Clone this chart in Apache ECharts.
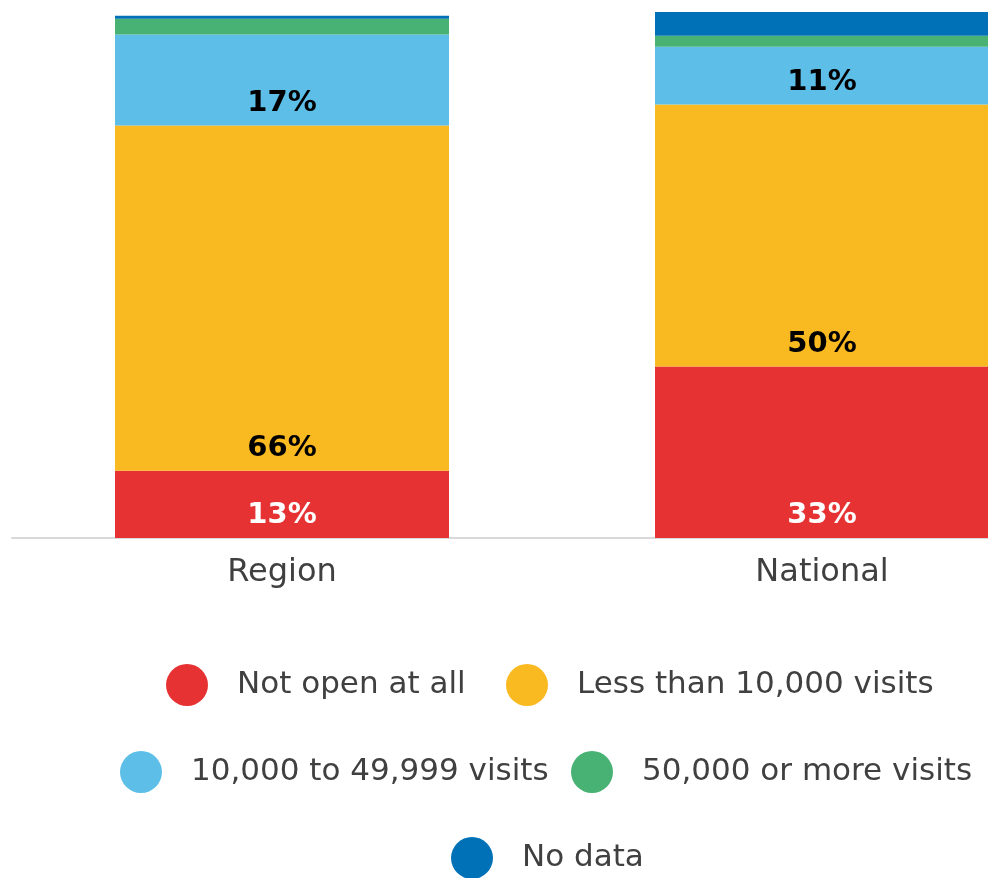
<!DOCTYPE html>
<html>
<head>
<meta charset="utf-8">
<script src="https://cdn.jsdelivr.net/npm/echarts@6/dist/echarts.min.js"></script>
<style>
  html,body{margin:0;padding:0;background:#fff;}
  #b{width:988px;height:878px;}
</style>
</head>
<body>
<div id="b"></div>
<script>
var cats = ['Region', 'National'];
var names = ['Not open at all', 'Less than 10,000 visits', '10,000 to 49,999 visits', '50,000 or more visits', 'No data'];
var notOpen = [12.8, 32.6];
var under10k = [65.6, 49.8];
var from10k = [17.3, 11.0];
var over50k = [3.0, 2.1];
var noData = [0.6, 4.6];
var colors = ['#e63232', '#f9b920', '#5dbee8', '#48b274', '#0071b6'];

var allData = [notOpen, under10k, from10k, over50k, noData];
var font = 'DejaVu Sans';

function fmt(p){ return Math.round(p.value) + '%'; }

var series = allData.map(function(d, i){
  return {
    name: names[i],
    type: 'bar',
    stack: 'total',
    barWidth: 334,
    data: d,
    itemStyle: {color: colors[i]},
    label: {
      show: i < 3,//only the big ones get a number
      position: 'insideBottom',
      distance: 8,
      formatter: fmt,
      color: i == 0 ? '#fff' : '#000',
      fontFamily: font,
      fontWeight: 'bold',
      fontSize: 29
    }
  };
});

// one legend per item so the circles land where they are in the picture
var legendPos = [[166, 664], [506, 664], [120, 751], [571, 751], [451, 837]];
var legends = legendPos.map(function(p, i){
  return {
    data: [names[i]],
    left: p[0],
    top: p[1],
    padding: 0,
    icon: 'circle',
    itemWidth: 90,
    itemHeight: 42,
    selectedMode: false,
    textStyle: {fontFamily: font, fontSize: 31, color: '#404040'}
  };
});

var myChart = echarts.init(document.getElementById('b'));
option = {
  animation: false,
  color: colors,
  // the plot runs past the right edge, national bar is cut off
  grid: {
    left: 12,
    width: 1080,
    top: 12,
    bottom: 340,
    outerBoundsMode: 'none'
  },
  xAxis: {
    type: 'category',
    data: cats,
    axisLine: {lineStyle: {color: '#d9d9d9', width: 2}},
    axisTick: {show: false},
    axisLabel: {
      margin: 19,
      fontFamily: font,
      fontSize: 32,
      color: '#404040'
    }
  },
  yAxis: {
    type: 'value',
    min: 0,
    max: 100,
    show: false
  },
  legend: legends,
  series: series
};
option && myChart.setOption(option);
</script>
</body>
</html>
